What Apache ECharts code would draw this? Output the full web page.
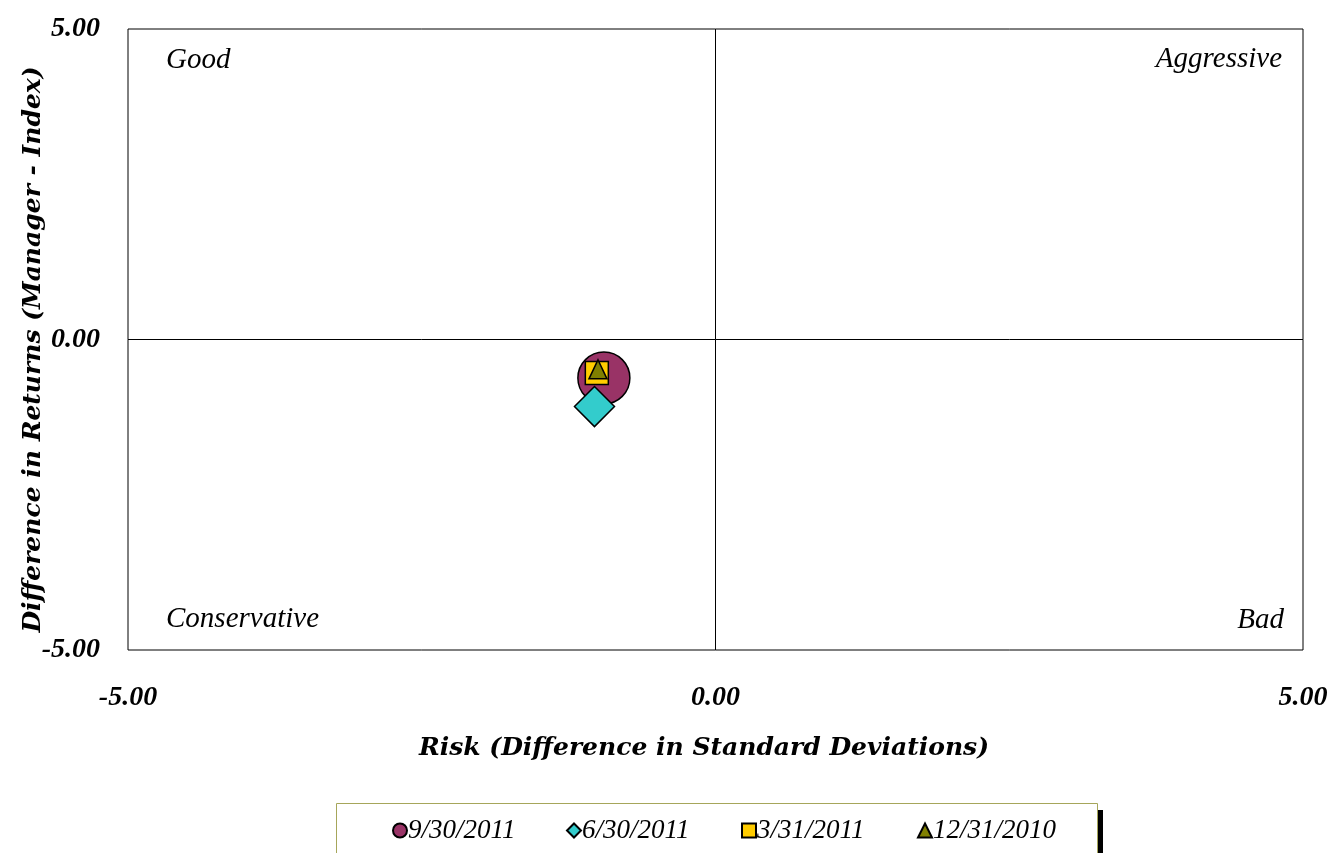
<!DOCTYPE html>
<html>
<head>
<meta charset="utf-8">
<script src="https://cdn.jsdelivr.net/npm/echarts@6/dist/echarts.min.js"></script>
<style>
  html, body { margin: 0; padding: 0; background: #fff; }
  #chart { width: 1333px; height: 853px; }
</style>
</head>
<body>
<div id="chart"></div>
<script>
// data
var seriesNames = ['9/30/2011', '6/30/2011', '3/31/2011', '12/31/2010']
var riskValues = [-0.95, -1.03, -1.01, -1.0]
var returnValues = [-0.62, -1.08, -0.54, -0.48]
var axisTicks = [-5, 0, 5]
var quadrantLabels = ['Good', 'Aggressive', 'Conservative', 'Bad']

var colors = ['#993366', '#33CCCC', '#FFCC00', '#808000']
var symbols = ['circle', 'diamond', 'rect', 'triangle']
var sizes = [52, 40, 23, [18, 19]]
var font = '"Liberation Serif", "Times New Roman", serif'
var titleFont = '"DejaVu Serif", serif'
var legendLeft = [392, 566, 741, 917]

var chart = echarts.init(document.getElementById('chart'))

var series = seriesNames.map(function(name, i) {
  var s = {
    name: name,
    type: 'scatter',
    symbol: symbols[i],
    symbolSize: sizes[i],
    itemStyle: { color: colors[i], borderColor: '#000', borderWidth: 1.5, opacity: 1 },
    data: [[riskValues[i], returnValues[i]]],
    z: 3 + i
  }
  if (i === 0) {
    // the zero lines that split the four quadrants
    s.markLine = {
      silent: true,
      symbol: 'none',
      label: { show: false },
      lineStyle: { color: '#000', width: 1, type: 'solid' },
      data: [{ xAxis: 0 }, { yAxis: 0 }]
    }
  }
  return s
})

var tickLabel = {
  fontFamily: font,
  fontSize: 28,
  fontWeight: 'bold',
  fontStyle: 'italic',
  color: '#000',
  formatter: function(v) { return v.toFixed(2) }
}

function quadText(text, x, y, align) {
  return {
    type: 'text', x: x, y: y, z: 10,
    style: { text: text, font: 'italic 29px ' + font, fill: '#000', align: align, verticalAlign: 'middle' }
  }
}

chart.setOption({
  animation: false,
  grid: {
    left: 128,
    right: 30,
    top: 29,
    bottom: 203,
    containLabel: false,
    outerBoundsMode: 'none',
    show: true,
    borderColor: '#000',
    borderWidth: 1,
    backgroundColor: '#fff'
  },
  xAxis: {
    type: 'value',
    min: axisTicks[0],
    max: axisTicks[axisTicks.length - 1],
    interval: 5,
    name: 'Risk (Difference in Standard Deviations)',
    nameLocation: 'middle',
    nameGap: 86,
    nameMoveOverlap: false,
    nameTextStyle: { fontFamily: titleFont, fontSize: 25, fontWeight: 'bold', fontStyle: 'italic', color: '#000', padding: [0, 23, 0, 0] },
    axisLine: { show: false },
    axisTick: { show: false },
    splitLine: { show: false },
    axisLabel: Object.assign({ margin: 34 }, tickLabel)
  },
  yAxis: {
    type: 'value',
    min: axisTicks[0],
    max: axisTicks[axisTicks.length - 1],
    interval: 5,
    name: 'Difference in Returns (Manager - Index)',
    nameLocation: 'middle',
    nameGap: 82,
    nameMoveOverlap: false,
    nameTextStyle: { fontFamily: titleFont, fontSize: 25, fontWeight: 'bold', fontStyle: 'italic', color: '#000', padding: [0, 20, 0, 0] },
    axisLine: { show: false },
    axisTick: { show: false },
    splitLine: { show: false },
    axisLabel: Object.assign({ margin: 28 }, tickLabel)
  },
  legend: seriesNames.map(function(name, i) {
    return {
      data: [name],
      left: legendLeft[i],
      top: 817,
      padding: 0,
      itemWidth: 14,
      itemHeight: 14,
      textStyle: { fontFamily: font, fontSize: 27, fontStyle: 'italic', color: '#000', padding: [0, 0, 0, -4] }
    }
  }),
  graphic: [
    // legend frame and its shadow
    { type: 'rect', left: 1097, top: 810, shape: { width: 6, height: 50 }, style: { fill: '#000' }, z: -1 },
    { type: 'rect', left: 336, top: 803, shape: { width: 761, height: 60 }, style: { fill: '#fff', stroke: '#a6a65a', lineWidth: 1 }, z: 0 },
    quadText(quadrantLabels[0], 166, 60, 'left'),
    quadText(quadrantLabels[1], 1282, 59, 'right'),
    quadText(quadrantLabels[2], 166, 619, 'left'),
    quadText(quadrantLabels[3], 1284, 620, 'right')
  ],
  series: series
})
</script>
</body>
</html>
